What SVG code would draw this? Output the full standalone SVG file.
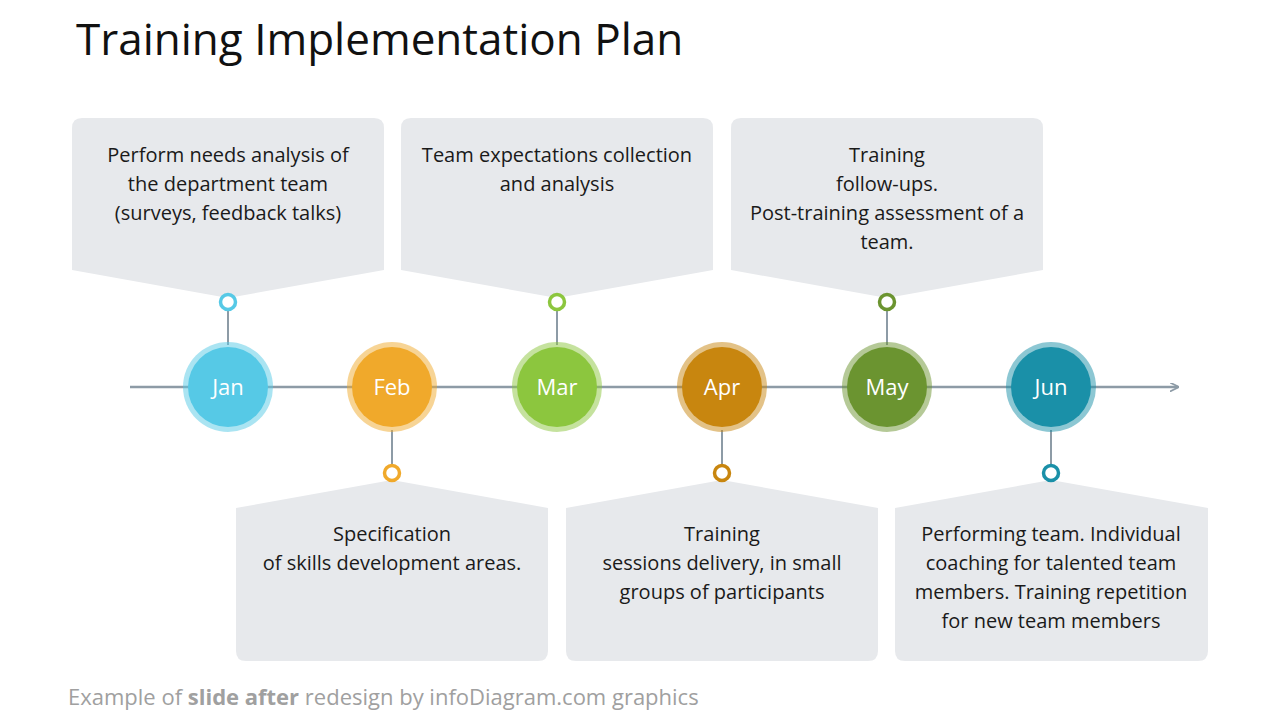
<svg xmlns="http://www.w3.org/2000/svg" width="1280" height="720" viewBox="0 0 1280 720">
<defs>
<style>
.box{fill:#e7e9ec}
.t{font-family:"Open Sans","DejaVu Sans",sans-serif;font-size:20px;fill:#1a1a1a;text-anchor:middle}
.m{font-family:"Open Sans","DejaVu Sans",sans-serif;font-size:22px;fill:#fff;text-anchor:middle}
.stem{stroke:#8d9ba6;stroke-width:2}
.dot{fill:#fff;stroke-width:3.5}
</style>
<marker id="ah" viewBox="0 0 10 10" refX="9" refY="5" markerWidth="9" markerHeight="9" markerUnits="userSpaceOnUse" orient="auto"><path d="M0,0 L10,5 L0,10" fill="none" stroke="#8d9ba6" stroke-width="2"/></marker>
</defs>
<rect width="1280" height="720" fill="#fff"/>
<text x="76" y="55" font-family="'Open Sans','DejaVu Sans',sans-serif" font-size="44" fill="#111">Training Implementation Plan</text>
<g id="connectors">
<line x1="130" y1="387" x2="1178" y2="387" stroke="#8d9ba6" stroke-width="2.5" marker-end="url(#ah)"/>
<line class="stem" x1="228" y1="310" x2="228" y2="345"/>
<line class="stem" x1="557" y1="310" x2="557" y2="345"/>
<line class="stem" x1="887" y1="310" x2="887" y2="345"/>
<line class="stem" x1="392" y1="430" x2="392" y2="465"/>
<line class="stem" x1="722" y1="430" x2="722" y2="465"/>
<line class="stem" x1="1051" y1="430" x2="1051" y2="465"/>
</g>
<g id="box1"><path class="box" d="M82,118 H374 Q384,118 384,128 V270 L228,298 L72,270 V128 Q72,118 82,118Z"/>
<text class="t" x="228" y="162">Perform needs analysis of</text><text class="t" x="228" y="191">the department team</text><text class="t" x="228" y="220">(surveys, feedback talks)</text></g>
<g id="box2"><path class="box" d="M411,118 H703 Q713,118 713,128 V270 L557,298 L401,270 V128 Q401,118 411,118Z"/>
<text class="t" x="557" y="162">Team expectations collection</text><text class="t" x="557" y="191">and analysis</text></g>
<g id="box3"><path class="box" d="M741,118 H1033 Q1043,118 1043,128 V270 L887,298 L731,270 V128 Q731,118 741,118Z"/>
<text class="t" x="887" y="162">Training</text><text class="t" x="887" y="191">follow-ups.</text><text class="t" x="887" y="220">Post-training assessment of a</text><text class="t" x="887" y="249">team.</text></g>
<g id="box4"><path class="box" d="M236,508 L392,480 L548,508 V651 Q548,661 538,661 H246 Q236,661 236,651Z"/>
<text class="t" x="392" y="541">Specification</text><text class="t" x="392" y="570">of skills development areas.</text></g>
<g id="box5"><path class="box" d="M566,508 L722,480 L878,508 V651 Q878,661 868,661 H576 Q566,661 566,651Z"/>
<text class="t" x="722" y="541">Training</text><text class="t" x="722" y="570">sessions delivery, in small</text><text class="t" x="722" y="599">groups of participants</text></g>
<g id="box6"><path class="box" d="M895,508 L1051,480 L1208,508 V651 Q1208,661 1198,661 H905 Q895,661 895,651Z"/>
<text class="t" x="1051" y="541">Performing team. Individual</text><text class="t" x="1051" y="570">coaching for talented team</text><text class="t" x="1051" y="599">members. Training repetition</text><text class="t" x="1051" y="628">for new team members</text></g>
<g id="jan"><circle cx="228" cy="387" r="45" fill="#56c9e6" opacity="0.5"/><circle cx="228" cy="387" r="40" fill="#56c9e6"/><circle class="dot" cx="228" cy="302" r="7.5" stroke="#56c9e6"/><text class="m" x="228" y="395">Jan</text></g>
<g id="feb"><circle cx="392" cy="387" r="45" fill="#f0a92b" opacity="0.5"/><circle cx="392" cy="387" r="40" fill="#f0a92b"/><circle class="dot" cx="392" cy="473" r="7.5" stroke="#f0a92b"/><text class="m" x="392" y="395">Feb</text></g>
<g id="mar"><circle cx="557" cy="387" r="45" fill="#8cc63e" opacity="0.5"/><circle cx="557" cy="387" r="40" fill="#8cc63e"/><circle class="dot" cx="557" cy="302" r="7.5" stroke="#8cc63e"/><text class="m" x="557" y="395">Mar</text></g>
<g id="apr"><circle cx="722" cy="387" r="45" fill="#c8860f" opacity="0.5"/><circle cx="722" cy="387" r="40" fill="#c8860f"/><circle class="dot" cx="722" cy="473" r="7.5" stroke="#c8860f"/><text class="m" x="722" y="395">Apr</text></g>
<g id="may"><circle cx="887" cy="387" r="45" fill="#6b9430" opacity="0.5"/><circle cx="887" cy="387" r="40" fill="#6b9430"/><circle class="dot" cx="887" cy="302" r="7.5" stroke="#6b9430"/><text class="m" x="887" y="395">May</text></g>
<g id="jun"><circle cx="1051" cy="387" r="45" fill="#1a90a8" opacity="0.5"/><circle cx="1051" cy="387" r="40" fill="#1a90a8"/><circle class="dot" cx="1051" cy="473" r="7.5" stroke="#1a90a8"/><text class="m" x="1051" y="395">Jun</text></g>
<text x="68" y="705" font-family="'Open Sans','DejaVu Sans',sans-serif" font-size="22" fill="#a0a0a0">Example of <tspan font-weight="bold">slide after</tspan> redesign by infoDiagram.com graphics</text>
</svg>
